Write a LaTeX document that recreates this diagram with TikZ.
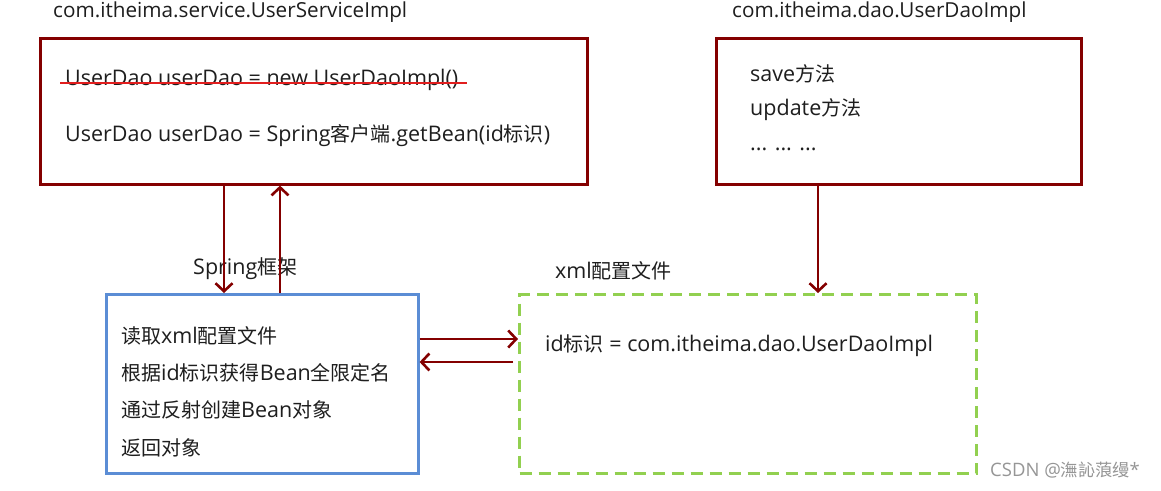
\documentclass[tikz,border=0pt]{standalone}
\usepackage{fontspec}
\setmainfont{Open Sans}
\newfontfamily\cjk[Scale=0.93]{Noto Sans CJK SC}
\usetikzlibrary{arrows.meta}
\definecolor{darkredc}{RGB}{132,0,0}
\definecolor{bluec}{RGB}{91,141,213}
\definecolor{greenc}{RGB}{146,208,80}
\definecolor{strikec}{RGB}{225,30,30}
\definecolor{textc}{RGB}{30,30,30}
\definecolor{wmc}{RGB}{150,150,150}
\begin{document}
\begin{tikzpicture}[x=1pt,y=-1pt,
  redbox/.style={draw=darkredc,line width=2.6pt,fill=white},
  bluebox/.style={draw=bluec,line width=2.6pt,fill=white},
  greenbox/.style={draw=greenc,line width=3pt,dash pattern=on 12pt off 7pt,fill=white},
  shadowbox/.style={fill=black!12,draw=none},
  txt/.style={inner sep=0pt,anchor=west,text=textc,font=\fontsize{21.5}{24}\selectfont},
  titletxt/.style={txt,font=\fontsize{20.7}{24}\selectfont},
  conn/.style={draw=darkredc,line width=2.8pt,-{Straight Barb[length=8pt,width=17pt,line width=2.6pt]}},
  every node/.style={inner sep=0pt}]
\useasboundingbox (0,0) rectangle (1161,490);
\fill[white] (0,0) rectangle (1161,490);
% shadows
\fill[shadowbox] (42,40) rectangle (589,186);
\fill[shadowbox] (718,40) rectangle (1083,186);
\fill[shadowbox] (108,296) rectangle (420,475);
% boxes
\node[redbox,minimum width=547pt,minimum height=146pt,anchor=north west] (svc) at (39,37) {};
\node[redbox,minimum width=365pt,minimum height=146pt,anchor=north west] (dao) at (715,37) {};
\node[bluebox,minimum width=312pt,minimum height=179pt,anchor=north west] (spring) at (105,293) {};
\node[greenbox,minimum width=457pt,minimum height=179pt,anchor=north west] (xml) at (518,293) {};
% titles
\node[titletxt] (svctitle) at (53,12) {com.itheima.service.UserServiceImpl};
\node[titletxt] (daotitle) at (732,12) {com.itheima.dao.UserDaoImpl};
\node[txt] (springlbl) at (193,269) {Spring{\cjk 框架}};
\node[txt] (xmllbl) at (555,271) {xml{\cjk 配置文件}};
% service box text
\node[txt] (old) at (65,80) {UserDao userDao = new UserDaoImpl()};
\coordinate (sl) at (60,83);
\coordinate (sr) at (467,83);
\draw[strikec,line width=1.4pt] (sl) -- (sr);
\node[txt] (new) at (65,136) {UserDao userDao = Spring{\cjk 客户端}.getBean(id{\cjk 标识})};
% dao box text
\node[txt] (save) at (750,74) {save{\cjk 方法}};
\node[txt] (update) at (750,110) {update{\cjk 方法}};
\node[txt] (dots) at (750,149) {... ... ...};
% spring box text
\node[txt] (l1) at (121,336) {{\cjk 读取}xml{\cjk 配置文件}};
\node[txt] (l2) at (121,373) {{\cjk 根据}id{\cjk 标识获得}Bean{\cjk 全限定名}};
\node[txt] (l3) at (121,410) {{\cjk 通过反射创建}Bean{\cjk 对象}};
\node[txt] (l4) at (121,448) {{\cjk 返回对象}};
% xml box text
\node[txt] (idl) at (545,346) {id{\cjk 标识} = com.itheima.dao.UserDaoImpl};
% connectors
\draw[conn] (svc.south -| 224,0) -- (spring.north -| 224,0);
\draw[conn] (spring.north -| 280,0) -- (svc.south -| 280,0);
\draw[conn] (dao.south -| 818,0) -- (xml.north -| 818,0);
\draw[conn] (spring.east |- 0,339) -- (xml.west |- 0,339);
\draw[conn] ([xshift=-5pt]xml.west |- 0,362) -- (spring.east |- 0,362);
% watermark
\node[txt,text=wmc,font=\fontsize{18.5}{20}\selectfont] (wm) at (990,470) {CSDN @{\cjk 潕訫蒗缦}*};
\end{tikzpicture}
\end{document}
